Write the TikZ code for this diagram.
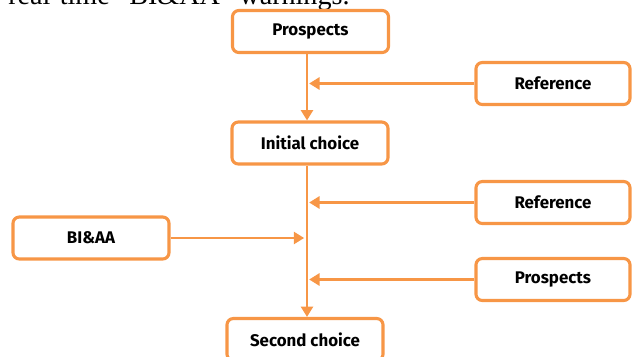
\documentclass[tikz,border=0pt]{standalone}
\usepackage{fontspec}
\setmainfont{Liberation Serif}
\setsansfont{Fira Sans}
\usetikzlibrary{arrows.meta}
\definecolor{boxorange}{HTML}{F79646}

\begin{document}
\begin{tikzpicture}[x=0.025cm, y=-0.025cm,
  box/.style={draw=boxorange, line width=2.2pt, rounded corners=0.16cm, fill=white,
    minimum width=3.9cm, minimum height=1.05cm,
    font=\sffamily\bfseries\fontsize{12}{14}\selectfont},
  arr/.style={draw=boxorange, line width=1.9pt, -{Triangle[length=0.26cm,width=0.3cm]}}]
  \useasboundingbox (0,0) rectangle (632,356);
  % last line of the text above, cut by the page
  \node[anchor=base west, inner sep=0pt, font=\fontsize{20}{24}\selectfont] (caption) at (8,4.5)
    {real-time ``BI\&AA'' warnings.};
  % main column
  \node[box] (pros-a) at (310.5,31.5) {Prospects};
  \node[box] (init) at (310,143) {Initial choice};
  \node[box] (second) at (305,339.5) {Second choice};
  \coordinate (spine) at (307,0);
  % boxes on the right
  \foreach \name/\ypos/\txt in {ref-a/83.5/Reference, ref-b/202.5/Reference, pros-b/279.5/Prospects}{
      \node[box, minimum width=3.85cm] (\name) at (553,\ypos) {\txt};
      \draw[arr] (\name.west) -- ([xshift=1.5]\name.west -| spine);
    }
  \node[box] (bia) at (91,238) {BI\&AA};
  % connectors
  \draw[arr] (pros-a.south -| spine) -- (init.north -| spine);
  \draw[arr] (init.south -| spine) -- (second.north -| spine);
  \draw[arr] (bia.east) -- ([xshift=-2]bia.east -| spine);
\end{tikzpicture}
\end{document}
